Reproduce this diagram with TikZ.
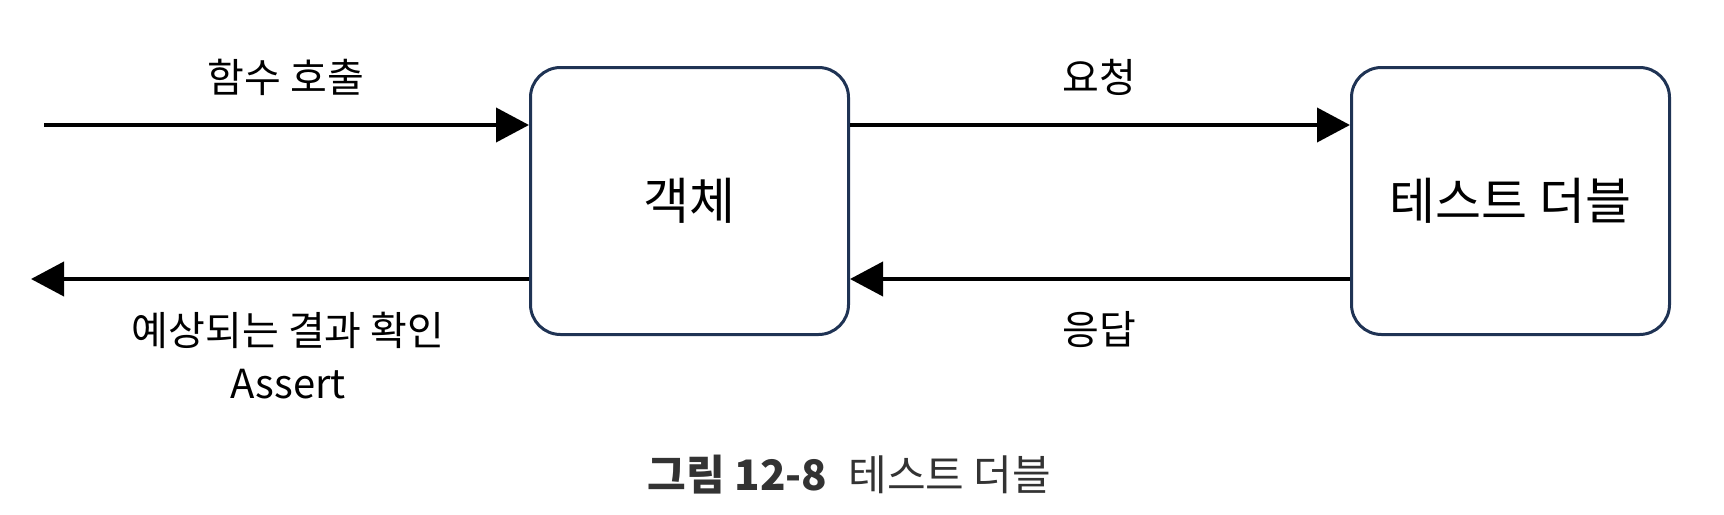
\documentclass[tikz,border=0pt]{standalone}
\usepackage{fontspec}
\setmainfont{Noto Sans CJK KR}
\usepackage{xcolor}
\usetikzlibrary{arrows.meta}
\definecolor{boxline}{HTML}{1F3354}
\definecolor{captext}{HTML}{333333}

\begin{document}
\begin{tikzpicture}[x=1pt, y=-1pt,
  block/.style={rectangle, rounded corners=30pt, line width=3pt, draw=boxline, minimum width=318pt, minimum height=267pt, font=\fontsize{50}{56}\selectfont},
  flow/.style={-{Triangle[length=33pt,width=34pt]}, line width=4pt},
  lbl/.style={font=\fontsize{40}{53}\selectfont, align=center}]
\useasboundingbox (0,0) rectangle (1724,514);

\node[block] (obj) at (689.5,201) {객체};

	\node[block] (dbl) at (1510.5,201) {테스트 더블};

\coordinate (src) at (44,125);
\coordinate (dst) at (31,279);

\draw[flow] (src) -- (src -| obj.west);

\draw[flow] (obj.west |- dst) -- (dst);

\draw[flow] (obj.east |- src) -- (dbl.west |- src);

\draw[flow] (dbl.west |- dst) -- (obj.east |- dst);

\node[lbl] (call) at (286,77) {함수 호출};
\node[lbl] (req) at (1099,77) {요청};
\node[lbl] (resp) at (1099,330) {응답};
\node[lbl] (check) at (288,356) {예상되는 결과 확인\\Assert};

\node[font=\fontsize{42}{48}\selectfont, text=captext] (cap) at (849.5,475) {\textbf{그림 12-8}\hspace{0.5em}테스트 더블};
\end{tikzpicture}
\end{document}
